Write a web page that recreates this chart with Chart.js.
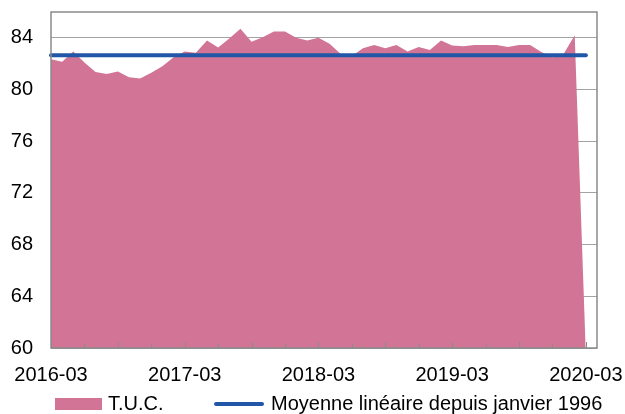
<!DOCTYPE html>
<html>
<head>
<meta charset="utf-8">
<script src="https://cdn.jsdelivr.net/npm/chart.js@4.4.0/dist/chart.umd.min.js"></script>
<style>
    body { margin: 0; background: #fff; }
    .wrap { position: relative; width: 625px; height: 414px; font-family: 'Liberation Sans', Arial, sans-serif; }
    canvas { position: absolute; left: 0; top: 0; }
    .legend { position: absolute; left: 0; top: 392px; width: 625px; height: 22px; font-size: 20px; color: #000; }
    .legend span { position: absolute; }
</style>
</head>
<body>
<div class="wrap">
    <canvas id="tucChart" width="625" height="414"></canvas>
    <div class="legend">
        <span style="left:55px; top:6px; width:47px; height:12px; background:#d17496;"></span>
        <span style="left:108px; top:0; line-height:22px;">T.U.C.</span>
        <span style="left:214px; top:10px; width:50px; height:4px; border-radius:2px; background:#2157a6;"></span>
        <span style="left:271px; top:0; line-height:22px;">Moyenne linéaire depuis janvier 1996</span>
    </div>
</div>
<script>
// months 2016-03 .. 2020-04
const months = [];
for (let y = 2016, m = 3; y < 2020 || (y === 2020 && m <= 4); m++) {
    if (m > 12) { m = 1; y++; }
    months.push(y + '-' + String(m).padStart(2, '0'));
}

const tucValues = [
    82.35, 82.15, 82.95, 82.1, 81.35, 81.2, 81.4, 80.95, 80.85, 81.3,
    81.8, 82.5, 82.95, 82.85, 83.8, 83.25, 83.95, 84.7, 83.7, 84.05,
    84.5, 84.5, 84.0, 83.8, 84.0, 83.55, 82.75, 82.6, 83.2, 83.45,
    83.2, 83.45, 82.95, 83.3, 83.05, 83.8, 83.4, 83.35, 83.45, 83.45,
    83.45, 83.3, 83.45, 83.45, 82.9, 82.5, 82.75, 84.2, 59.5, null
];

const meanLevel = 82.66;
const meanStart = '2016-03';
const meanEnd = '2020-03';

const yTicks = [60, 64, 68, 72, 76, 80, 84];

const frame = {
    id: 'frame',
    afterDatasetsDraw(chart) {
        const { ctx, chartArea: a, scales: { x } } = chart;
        ctx.save();
        ctx.strokeStyle = '#8a8a8a';
        ctx.lineWidth = 1;
        for (let i = 0; i < months.length; i += 3) {
            const px = Math.round(x.getPixelForValue(i)) + 0.5;
            const len = i % 6 === 0 ? 6 : 4;
            ctx.beginPath();
            ctx.moveTo(px, a.bottom);
            ctx.lineTo(px, a.bottom - len);
            ctx.stroke();
        }
        ctx.lineWidth = 1.5;
        ctx.strokeRect(a.left, a.top, a.right - a.left, a.bottom - a.top);
        ctx.restore();
    }
};

new Chart(document.getElementById('tucChart'), {
    type: 'line',
    data: {
        labels: months,
        datasets: [
            {
                label: 'Moyenne linéaire depuis janvier 1996',
                data: [{ x: meanStart, y: meanLevel }, { x: meanEnd, y: meanLevel }],
                borderColor: '#2157a6',
                borderWidth: 4,
                borderCapStyle: 'round',
                pointRadius: 0,
                fill: false,
                order: 0
            },
            {
                label: 'T.U.C.',
                data: tucValues,
                backgroundColor: '#d17496',
                borderWidth: 0,
                pointRadius: 0,
                tension: 0,
                fill: 'start',
                order: 1
            }
        ]
    },
    options: {
        responsive: false,
        animation: false,
        layout: { padding: { top: 12, right: 28, left: 0, bottom: 0 } },
        plugins: { legend: { display: false }, tooltip: { enabled: false } },
        scales: {
            x: {
                grid: { display: false },
                border: { display: false },
                ticks: {
                    autoSkip: false,
                    maxRotation: 0,
                    padding: 7,
                    color: '#000',
                    font: { family: "'Liberation Sans', Arial", size: 20 },
                    callback: (v, i) => months[i].endsWith('-03') ? months[i] : ''
                },
                afterFit: s => { s.height = 66; s.paddingLeft = 0; s.paddingRight = 0; }
            },
            y: {
                min: 60,
                max: 86,
                grid: { color: '#a3a3a3', lineWidth: 1, drawTicks: false },
                border: { display: false },
                afterBuildTicks: s => { s.ticks = yTicks.map(v => ({ value: v })); },
                ticks: {
                    padding: 18,
                    color: '#000',
                    font: { family: "'Liberation Sans', Arial", size: 20 }
                },
                afterFit: s => { s.width = 51; s.paddingTop = 0; s.paddingBottom = 0; }
            }
        }
    },
    plugins: [frame]
});
</script>
</body>
</html>
